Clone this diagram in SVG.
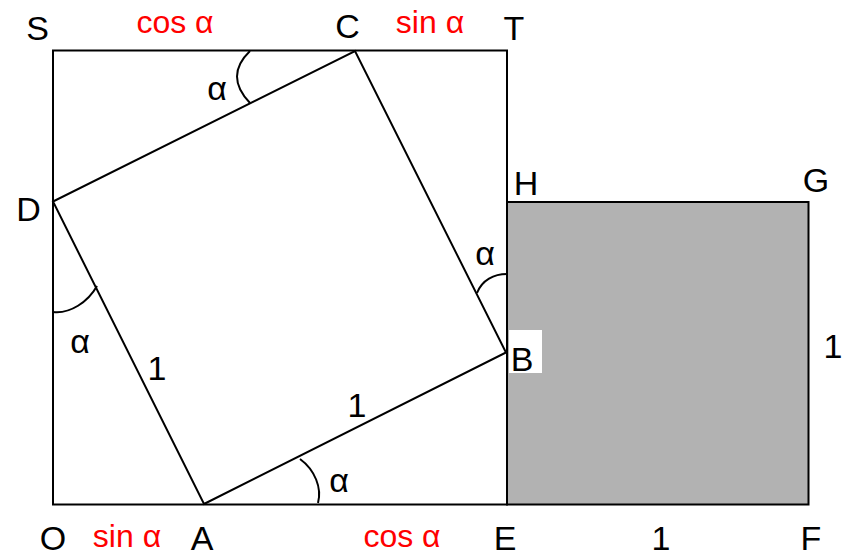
<svg xmlns="http://www.w3.org/2000/svg" width="848" height="557" viewBox="0 0 848 557">
<style>
.ln{fill:none;stroke:#000;stroke-width:2}
.arc{fill:none;stroke:#000;stroke-width:2}
.lb{font-family:"Liberation Sans",Arial,sans-serif;font-size:34px;fill:#000;text-anchor:middle}
.rd{font-family:"Liberation Sans",Arial,sans-serif;font-size:32px;fill:#ff0000;text-anchor:middle}
</style>
<rect width="848" height="557" fill="#fff"/>
<g id="outer-square"><rect class="ln" x="53" y="50.5" width="454" height="454"/></g>
<g id="gray-square"><rect x="507" y="202" width="301.5" height="302.5" fill="#b2b2b2" stroke="#000" stroke-width="2"/></g>
<g id="inner-square"><polygon class="ln" points="204,504 506,352.5 355,51 53,201.5"/></g>
<g id="connectors">
<path class="arc" d="M250,51 Q224,76 250,103"/>
<path class="arc" d="M53,312 C70,314 88,302 97,286"/>
<path class="arc" d="M477,293 C482,280 494,274 507,274"/>
<path class="arc" d="M300,459 C315,470 322,488 318,503"/>
</g>
<g id="label-bg"><rect x="509" y="330" width="33" height="43" fill="#fff"/></g>
<g id="labels">
<text class="lb" x="37.5" y="40">S</text>
<text class="lb" x="347.5" y="38">C</text>
<text class="lb" x="514" y="40">T</text>
<text class="lb" x="217" y="100">α</text>
<text class="lb" x="28.5" y="221">D</text>
<text class="lb" x="80" y="353">α</text>
<text class="lb" x="157" y="380">1</text>
<text class="lb" x="526" y="195">H</text>
<text class="lb" x="485" y="265">α</text>
<text class="lb" x="522" y="371">B</text>
<text class="lb" x="816" y="192">G</text>
<text class="lb" x="833" y="358">1</text>
<text class="lb" x="357" y="417">1</text>
<text class="lb" x="339" y="492">α</text>
<text class="lb" x="53" y="550">O</text>
<text class="lb" x="202" y="550">A</text>
<text class="lb" x="505" y="550">E</text>
<text class="lb" x="661" y="550">1</text>
<text class="lb" x="811" y="550">F</text>
<text class="rd" x="175" y="33">cos α</text>
<text class="rd" x="430" y="33">sin α</text>
<text class="rd" x="127" y="547">sin α</text>
<text class="rd" x="402" y="547">cos α</text>
</g>
</svg>
